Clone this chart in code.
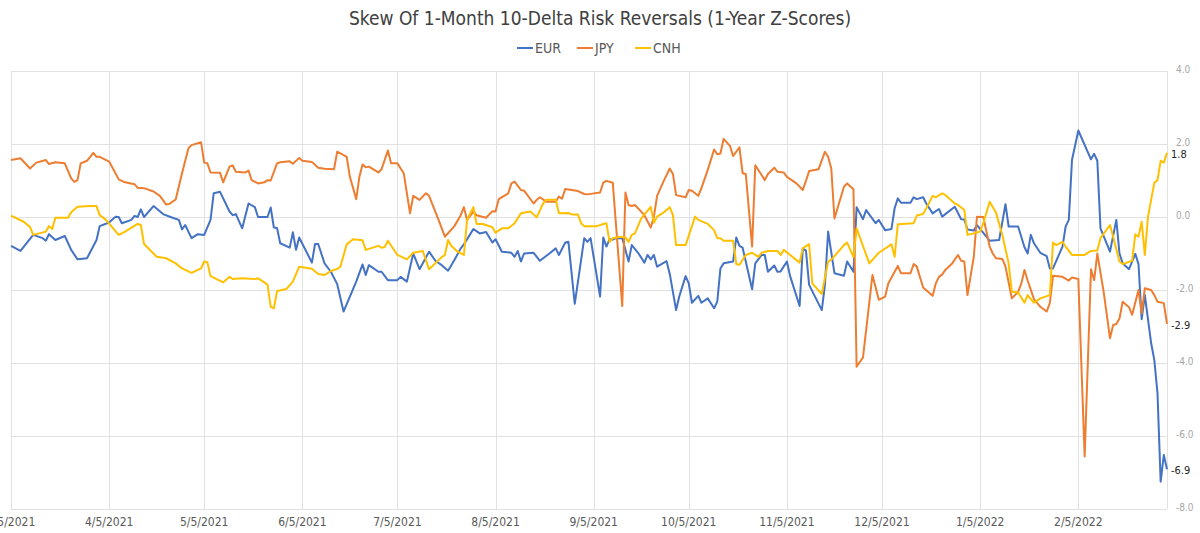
<!DOCTYPE html>
<html>
<head>
<meta charset="utf-8">
<script src="https://cdn.jsdelivr.net/npm/d3@7"></script>
<style>
  body { margin: 0; background: #fff; }
  #chart { width: 1200px; height: 533px; }
  text { font-family: "Liberation Sans Narrow", "DejaVu Sans Condensed", "Roboto", sans-serif; }
</style>
</head>
<body>
<div id="chart"></div>
<script>
// Chart data
const title = "Skew Of 1-Month 10-Delta Risk Reversals (1-Year Z-Scores)";
const seriesNames = ["EUR", "JPY", "CNH"];
const seriesColors = ["#4472C4", "#ED7D31", "#FFC000"];
const yTicks = [4, 2, 0, -2, -4, -6, -8];
const xTickDates = ["2021-03-05", "2021-04-05", "2021-05-05", "2021-06-05", "2021-07-05", "2021-08-05",
  "2021-09-05", "2021-10-05", "2021-11-05", "2021-12-05", "2022-01-05", "2022-02-05"];
const xDomain = ["2021-03-05", "2022-03-05"];

const eurData = [
  ["2021-03-05", -0.79], ["2021-03-08", -0.93], ["2021-03-12", -0.49], ["2021-03-15", -0.58], ["2021-03-16", -0.65],
  ["2021-03-17", -0.47], ["2021-03-19", -0.63], ["2021-03-22", -0.52], ["2021-03-24", -0.90], ["2021-03-26", -1.16],
  ["2021-03-29", -1.13], ["2021-04-01", -0.63], ["2021-04-02", -0.25], ["2021-04-05", -0.15], ["2021-04-07", 0.01],
  ["2021-04-08", 0.0], ["2021-04-09", -0.17], ["2021-04-12", -0.08], ["2021-04-13", 0.03], ["2021-04-14", 0.0],
  ["2021-04-15", 0.21], ["2021-04-16", 0.0], ["2021-04-19", 0.30], ["2021-04-22", 0.08], ["2021-04-25", -0.02],
  ["2021-04-27", -0.08], ["2021-04-28", -0.34], ["2021-04-29", -0.22], ["2021-05-01", -0.58], ["2021-05-03", -0.47],
  ["2021-05-05", -0.49], ["2021-05-07", -0.08], ["2021-05-08", 0.65], ["2021-05-10", 0.69], ["2021-05-13", 0.15],
  ["2021-05-14", 0.05], ["2021-05-15", 0.08], ["2021-05-17", -0.31], ["2021-05-19", 0.37], ["2021-05-21", 0.27],
  ["2021-05-22", 0.0], ["2021-05-25", 0.0], ["2021-05-26", 0.26], ["2021-05-27", -0.29], ["2021-05-28", -0.30],
  ["2021-05-29", -0.72], ["2021-06-01", -0.84], ["2021-06-02", -0.42], ["2021-06-03", -0.90], ["2021-06-04", -0.56],
  ["2021-06-08", -1.25], ["2021-06-09", -0.74], ["2021-06-10", -0.74], ["2021-06-12", -1.27], ["2021-06-14", -1.50],
  ["2021-06-16", -1.84], ["2021-06-18", -2.59], ["2021-06-20", -2.18], ["2021-06-22", -1.77], ["2021-06-24", -1.30],
  ["2021-06-25", -1.59], ["2021-06-26", -1.32], ["2021-06-29", -1.50], ["2021-06-30", -1.50], ["2021-07-02", -1.73],
  ["2021-07-05", -1.73], ["2021-07-06", -1.64], ["2021-07-08", -1.77], ["2021-07-10", -1.0], ["2021-07-12", -1.43],
  ["2021-07-15", -0.95], ["2021-07-17", -1.20], ["2021-07-19", -1.32], ["2021-07-21", -1.47], ["2021-07-23", -1.18],
  ["2021-07-25", -0.86], ["2021-07-26", -0.75], ["2021-07-29", -0.33], ["2021-07-31", -0.45], ["2021-08-02", -0.41],
  ["2021-08-04", -0.70], ["2021-08-05", -0.61], ["2021-08-07", -0.95], ["2021-08-10", -0.98], ["2021-08-11", -1.09],
  ["2021-08-12", -0.93], ["2021-08-13", -1.22], ["2021-08-14", -1.0], ["2021-08-17", -0.98], ["2021-08-19", -1.20],
  ["2021-08-22", -1.0], ["2021-08-24", -0.86], ["2021-08-25", -1.04], ["2021-08-27", -0.70], ["2021-08-28", -0.68],
  ["2021-08-30", -2.38], ["2021-09-02", -0.58], ["2021-09-03", -0.68], ["2021-09-04", -0.58], ["2021-09-07", -2.18],
  ["2021-09-08", -0.56], ["2021-09-09", -0.81], ["2021-09-10", -0.61], ["2021-09-11", -0.62], ["2021-09-12", -0.58],
  ["2021-09-14", -0.58], ["2021-09-16", -1.22], ["2021-09-17", -0.77], ["2021-09-19", -0.98], ["2021-09-21", -1.25],
  ["2021-09-22", -1.04], ["2021-09-23", -1.16], ["2021-09-24", -1.04], ["2021-09-25", -1.36], ["2021-09-28", -1.21],
  ["2021-09-29", -1.56], ["2021-10-01", -2.55], ["2021-10-02", -2.18], ["2021-10-04", -1.62], ["2021-10-05", -1.82],
  ["2021-10-06", -2.35], ["2021-10-08", -2.16], ["2021-10-09", -2.35], ["2021-10-11", -2.23], ["2021-10-13", -2.50],
  ["2021-10-14", -2.32], ["2021-10-15", -1.41], ["2021-10-16", -1.27], ["2021-10-19", -1.22], ["2021-10-20", -0.56],
  ["2021-10-21", -0.79], ["2021-10-22", -0.84], ["2021-10-25", -1.98], ["2021-10-26", -1.27], ["2021-10-28", -1.04],
  ["2021-10-29", -1.04], ["2021-10-30", -1.50], ["2021-11-01", -1.33], ["2021-11-02", -1.50], ["2021-11-03", -1.49],
  ["2021-11-05", -1.22], ["2021-11-06", -1.62], ["2021-11-09", -2.44], ["2021-11-10", -0.86], ["2021-11-11", -0.92],
  ["2021-11-12", -1.86], ["2021-11-16", -2.55], ["2021-11-17", -1.86], ["2021-11-18", -0.40], ["2021-11-20", -1.54],
  ["2021-11-23", -1.61], ["2021-11-24", -1.22], ["2021-11-26", -1.50], ["2021-11-27", 0.27], ["2021-11-29", -0.06],
  ["2021-11-30", 0.19], ["2021-12-03", -0.17], ["2021-12-04", -0.08], ["2021-12-06", -0.36], ["2021-12-08", -0.33],
  ["2021-12-09", 0.24], ["2021-12-10", 0.51], ["2021-12-11", 0.39], ["2021-12-14", 0.39], ["2021-12-15", 0.54],
  ["2021-12-16", 0.49], ["2021-12-18", 0.54], ["2021-12-19", 0.37], ["2021-12-21", 0.10], ["2021-12-23", 0.22],
  ["2021-12-24", 0.01], ["2021-12-28", 0.28], ["2021-12-30", -0.06], ["2021-12-31", -0.07], ["2022-01-01", -0.34],
  ["2022-01-03", -0.37], ["2022-01-04", -0.22], ["2022-01-08", -0.65], ["2022-01-11", -0.63], ["2022-01-13", 0.35],
  ["2022-01-14", -0.26], ["2022-01-17", -0.26], ["2022-01-19", -0.83], ["2022-01-20", -1.0], ["2022-01-21", -0.49],
  ["2022-01-22", -0.72], ["2022-01-24", -0.98], ["2022-01-26", -1.07], ["2022-01-27", -1.41], ["2022-01-28", -1.41],
  ["2022-01-31", -0.81], ["2022-02-01", -0.26], ["2022-02-02", -0.08], ["2022-02-03", 1.56], ["2022-02-05", 2.37],
  ["2022-02-09", 1.58], ["2022-02-10", 1.73], ["2022-02-11", 1.54], ["2022-02-12", -0.31], ["2022-02-15", -0.95],
  ["2022-02-17", -0.08], ["2022-02-18", -1.0], ["2022-02-19", -1.27], ["2022-02-21", -1.43], ["2022-02-23", -1.01],
  ["2022-02-24", -1.29], ["2022-02-25", -2.80], ["2022-02-26", -2.14], ["2022-02-28", -3.46], ["2022-03-01", -3.92],
  ["2022-03-02", -4.83], ["2022-03-03", -7.25], ["2022-03-04", -6.52], ["2022-03-05", -6.91]
];

const jpyData = [
  ["2021-03-05", 1.56], ["2021-03-08", 1.61], ["2021-03-11", 1.33], ["2021-03-13", 1.49], ["2021-03-16", 1.56],
  ["2021-03-17", 1.45], ["2021-03-19", 1.50], ["2021-03-22", 1.47], ["2021-03-24", 1.06], ["2021-03-25", 0.96],
  ["2021-03-26", 1.01], ["2021-03-27", 1.47], ["2021-03-29", 1.54], ["2021-03-31", 1.76], ["2021-04-01", 1.65],
  ["2021-04-02", 1.65], ["2021-04-05", 1.52], ["2021-04-08", 1.03], ["2021-04-10", 0.95], ["2021-04-13", 0.90],
  ["2021-04-14", 0.80], ["2021-04-16", 0.79], ["2021-04-19", 0.70], ["2021-04-21", 0.58], ["2021-04-23", 0.34],
  ["2021-04-24", 0.36], ["2021-04-26", 0.48], ["2021-04-28", 1.20], ["2021-04-30", 1.88], ["2021-05-01", 1.97],
  ["2021-05-04", 2.05], ["2021-05-05", 1.49], ["2021-05-06", 1.47], ["2021-05-07", 1.22], ["2021-05-10", 1.21],
  ["2021-05-11", 0.95], ["2021-05-13", 1.38], ["2021-05-14", 1.41], ["2021-05-15", 1.24], ["2021-05-18", 1.22],
  ["2021-05-19", 1.27], ["2021-05-20", 1.01], ["2021-05-22", 0.92], ["2021-05-24", 0.95], ["2021-05-25", 1.01],
  ["2021-05-26", 1.0], ["2021-05-28", 1.47], ["2021-05-29", 1.50], ["2021-06-01", 1.53], ["2021-06-02", 1.46],
  ["2021-06-04", 1.62], ["2021-06-05", 1.54], ["2021-06-08", 1.51], ["2021-06-10", 1.35], ["2021-06-12", 1.32],
  ["2021-06-15", 1.31], ["2021-06-16", 1.79], ["2021-06-19", 1.65], ["2021-06-20", 1.10], ["2021-06-22", 0.49],
  ["2021-06-23", 1.10], ["2021-06-24", 1.44], ["2021-06-25", 1.36], ["2021-06-26", 1.38], ["2021-06-29", 1.22],
  ["2021-06-30", 1.31], ["2021-07-02", 1.82], ["2021-07-03", 1.47], ["2021-07-05", 1.47], ["2021-07-07", 1.20],
  ["2021-07-09", 0.10], ["2021-07-10", 0.58], ["2021-07-12", 0.47], ["2021-07-14", 0.65], ["2021-07-15", 0.58],
  ["2021-07-18", -0.08], ["2021-07-20", -0.54], ["2021-07-23", -0.25], ["2021-07-25", 0.05], ["2021-07-26", 0.27],
  ["2021-07-27", -0.08], ["2021-07-29", 0.15], ["2021-07-30", 0.05], ["2021-08-02", -0.02], ["2021-08-04", 0.16],
  ["2021-08-05", 0.15], ["2021-08-06", 0.49], ["2021-08-09", 0.65], ["2021-08-10", 0.92], ["2021-08-11", 0.97],
  ["2021-08-13", 0.74], ["2021-08-14", 0.72], ["2021-08-17", 0.37], ["2021-08-18", 0.47], ["2021-08-19", 0.54],
  ["2021-08-21", 0.42], ["2021-08-24", 0.42], ["2021-08-25", 0.56], ["2021-08-26", 0.50], ["2021-08-27", 0.77],
  ["2021-08-31", 0.71], ["2021-09-02", 0.63], ["2021-09-03", 0.62], ["2021-09-07", 0.67], ["2021-09-08", 0.94],
  ["2021-09-09", 0.99], ["2021-09-11", 0.94], ["2021-09-14", -2.44], ["2021-09-15", 0.67], ["2021-09-16", 0.33],
  ["2021-09-17", 0.30], ["2021-09-18", 0.33], ["2021-09-21", 0.05], ["2021-09-23", -0.29], ["2021-09-24", 0.01],
  ["2021-09-25", 0.58], ["2021-09-27", 0.97], ["2021-09-29", 1.33], ["2021-09-30", 1.18], ["2021-10-01", 0.60],
  ["2021-10-04", 0.54], ["2021-10-05", 0.74], ["2021-10-06", 0.72], ["2021-10-08", 0.58], ["2021-10-09", 0.79],
  ["2021-10-11", 1.29], ["2021-10-13", 1.85], ["2021-10-14", 1.72], ["2021-10-15", 1.74], ["2021-10-16", 2.14],
  ["2021-10-18", 1.95], ["2021-10-19", 1.67], ["2021-10-21", 1.91], ["2021-10-22", 1.20], ["2021-10-23", 1.18],
  ["2021-10-25", -0.81], ["2021-10-26", 1.42], ["2021-10-28", 1.15], ["2021-10-29", 1.01], ["2021-10-30", 1.18],
  ["2021-11-01", 1.35], ["2021-11-02", 1.24], ["2021-11-04", 1.22], ["2021-11-05", 1.10], ["2021-11-08", 0.92],
  ["2021-11-10", 0.74], ["2021-11-11", 0.99], ["2021-11-12", 1.26], ["2021-11-15", 1.31], ["2021-11-17", 1.79],
  ["2021-11-18", 1.65], ["2021-11-19", 1.33], ["2021-11-20", -0.04], ["2021-11-23", 0.83], ["2021-11-24", 0.92],
  ["2021-11-26", 0.76], ["2021-11-27", -4.10], ["2021-11-29", -3.85], ["2021-12-02", -1.59], ["2021-12-04", -2.27],
  ["2021-12-06", -2.18], ["2021-12-07", -1.82], ["2021-12-10", -1.34], ["2021-12-11", -1.54], ["2021-12-14", -1.54],
  ["2021-12-15", -1.29], ["2021-12-16", -1.36], ["2021-12-18", -1.93], ["2021-12-21", -2.16], ["2021-12-22", -1.82],
  ["2021-12-23", -1.64], ["2021-12-24", -1.58], ["2021-12-25", -1.45], ["2021-12-27", -1.29], ["2021-12-29", -1.04],
  ["2021-12-30", -1.20], ["2021-12-31", -1.22], ["2022-01-01", -2.14], ["2022-01-03", -1.09], ["2022-01-04", 0.01],
  ["2022-01-06", 0.0], ["2022-01-08", -0.81], ["2022-01-09", -1.0], ["2022-01-10", -1.13], ["2022-01-12", -1.15],
  ["2022-01-13", -1.36], ["2022-01-15", -2.23], ["2022-01-17", -2.05], ["2022-01-18", -1.82], ["2022-01-19", -1.45],
  ["2022-01-20", -1.74], ["2022-01-22", -2.25], ["2022-01-24", -2.46], ["2022-01-26", -2.59], ["2022-01-27", -2.36],
  ["2022-01-28", -1.61], ["2022-01-31", -1.64], ["2022-02-02", -1.74], ["2022-02-03", -1.66], ["2022-02-05", -1.70],
  ["2022-02-07", -6.56], ["2022-02-09", -1.43], ["2022-02-10", -1.73], ["2022-02-11", -1.0], ["2022-02-13", -2.05],
  ["2022-02-15", -3.32], ["2022-02-16", -2.96], ["2022-02-17", -2.93], ["2022-02-18", -2.78], ["2022-02-19", -2.32],
  ["2022-02-21", -2.47], ["2022-02-22", -2.68], ["2022-02-24", -2.0], ["2022-02-25", -2.64], ["2022-02-26", -1.95],
  ["2022-02-28", -2.0], ["2022-03-01", -2.14], ["2022-03-02", -2.32], ["2022-03-04", -2.36], ["2022-03-05", -2.93]
];

const cnhData = [
  ["2021-03-05", 0.04], ["2021-03-09", -0.13], ["2021-03-11", -0.27], ["2021-03-12", -0.49], ["2021-03-16", -0.40],
  ["2021-03-17", -0.25], ["2021-03-18", -0.33], ["2021-03-19", -0.02], ["2021-03-23", -0.02], ["2021-03-24", 0.13],
  ["2021-03-26", 0.28], ["2021-03-30", 0.30], ["2021-04-01", 0.30], ["2021-04-02", 0.05], ["2021-04-04", -0.08],
  ["2021-04-08", -0.49], ["2021-04-10", -0.40], ["2021-04-14", -0.19], ["2021-04-15", -0.22], ["2021-04-16", -0.74],
  ["2021-04-20", -1.09], ["2021-04-23", -1.13], ["2021-04-26", -1.27], ["2021-04-28", -1.41], ["2021-05-01", -1.53],
  ["2021-05-04", -1.41], ["2021-05-05", -1.22], ["2021-05-06", -1.24], ["2021-05-07", -1.62], ["2021-05-11", -1.79],
  ["2021-05-13", -1.64], ["2021-05-14", -1.70], ["2021-05-17", -1.68], ["2021-05-21", -1.70], ["2021-05-22", -1.68],
  ["2021-05-24", -1.79], ["2021-05-25", -1.86], ["2021-05-26", -2.46], ["2021-05-27", -2.50], ["2021-05-28", -2.03],
  ["2021-05-31", -1.97], ["2021-06-02", -1.77], ["2021-06-04", -1.36], ["2021-06-08", -1.42], ["2021-06-10", -1.56],
  ["2021-06-12", -1.59], ["2021-06-14", -1.48], ["2021-06-16", -1.42], ["2021-06-17", -1.36], ["2021-06-19", -0.75],
  ["2021-06-21", -0.61], ["2021-06-24", -0.64], ["2021-06-25", -0.90], ["2021-06-29", -0.79], ["2021-06-30", -0.84],
  ["2021-07-01", -0.82], ["2021-07-02", -0.65], ["2021-07-05", -1.04], ["2021-07-08", -1.16], ["2021-07-10", -0.98],
  ["2021-07-13", -0.93], ["2021-07-15", -1.43], ["2021-07-19", -1.10], ["2021-07-20", -1.04], ["2021-07-21", -0.63],
  ["2021-07-22", -0.79], ["2021-07-24", -0.95], ["2021-07-26", -1.04], ["2021-07-27", -0.08], ["2021-07-29", 0.27],
  ["2021-07-30", -0.19], ["2021-08-01", -0.19], ["2021-08-04", -0.28], ["2021-08-05", -0.43], ["2021-08-07", -0.31],
  ["2021-08-09", -0.31], ["2021-08-11", -0.17], ["2021-08-13", 0.10], ["2021-08-16", 0.15], ["2021-08-18", -0.01],
  ["2021-08-20", 0.37], ["2021-08-21", 0.47], ["2021-08-24", 0.47], ["2021-08-25", 0.10], ["2021-08-28", 0.11],
  ["2021-08-29", 0.07], ["2021-08-31", 0.07], ["2021-09-01", -0.17], ["2021-09-02", -0.25], ["2021-09-06", -0.25],
  ["2021-09-08", -0.19], ["2021-09-09", -0.17], ["2021-09-10", -0.68], ["2021-09-11", -0.58], ["2021-09-13", -0.54],
  ["2021-09-15", -0.56], ["2021-09-16", -0.68], ["2021-09-17", -0.49], ["2021-09-18", -0.45], ["2021-09-20", -0.04],
  ["2021-09-23", 0.28], ["2021-09-24", -0.16], ["2021-09-25", 0.01], ["2021-09-27", 0.12], ["2021-09-29", 0.27],
  ["2021-09-30", 0.05], ["2021-10-01", -0.77], ["2021-10-04", -0.77], ["2021-10-07", 0.01], ["2021-10-08", -0.08],
  ["2021-10-11", -0.19], ["2021-10-13", -0.36], ["2021-10-14", -0.58], ["2021-10-15", -0.58], ["2021-10-16", -0.65],
  ["2021-10-19", -0.65], ["2021-10-20", -1.29], ["2021-10-21", -1.31], ["2021-10-23", -1.04], ["2021-10-25", -0.98],
  ["2021-10-27", -1.09], ["2021-10-28", -0.98], ["2021-10-30", -0.93], ["2021-11-02", -0.93], ["2021-11-03", -1.04],
  ["2021-11-04", -0.90], ["2021-11-09", -1.25], ["2021-11-10", -0.86], ["2021-11-12", -0.74], ["2021-11-13", -1.82],
  ["2021-11-16", -2.11], ["2021-11-18", -1.22], ["2021-11-19", -1.17], ["2021-11-23", -0.77], ["2021-11-24", -0.70],
  ["2021-11-26", -1.09], ["2021-11-27", -0.31], ["2021-12-01", -1.27], ["2021-12-04", -0.98], ["2021-12-08", -0.75],
  ["2021-12-09", -1.09], ["2021-12-10", -0.20], ["2021-12-15", -0.17], ["2021-12-16", 0.04], ["2021-12-18", 0.08],
  ["2021-12-19", 0.24], ["2021-12-21", 0.58], ["2021-12-22", 0.54], ["2021-12-24", 0.65], ["2021-12-25", 0.60],
  ["2021-12-28", 0.37], ["2021-12-29", 0.33], ["2021-12-31", 0.19], ["2022-01-01", -0.49], ["2022-01-05", -0.40],
  ["2022-01-06", -0.17], ["2022-01-08", 0.42], ["2022-01-10", 0.12], ["2022-01-12", -0.49], ["2022-01-14", -1.27],
  ["2022-01-15", -2.05], ["2022-01-17", -2.07], ["2022-01-19", -2.35], ["2022-01-20", -2.14], ["2022-01-22", -2.35],
  ["2022-01-24", -2.23], ["2022-01-27", -2.14], ["2022-01-28", -0.70], ["2022-01-29", -0.77], ["2022-01-31", -0.68],
  ["2022-02-01", -0.81], ["2022-02-03", -1.04], ["2022-02-07", -1.04], ["2022-02-09", -0.93], ["2022-02-11", -0.92],
  ["2022-02-12", -0.58], ["2022-02-15", -0.22], ["2022-02-16", -0.54], ["2022-02-18", -1.22], ["2022-02-19", -1.29],
  ["2022-02-22", -1.20], ["2022-02-23", -0.47], ["2022-02-24", -0.54], ["2022-02-25", -0.13], ["2022-02-26", -1.04],
  ["2022-02-27", 0.01], ["2022-03-01", 0.94], ["2022-03-02", 1.01], ["2022-03-03", 1.54], ["2022-03-04", 1.49],
  ["2022-03-05", 1.76]
];

const allData = [eurData, jpyData, cnhData];

const width = 1200;
const height = 533;
const margin = { top: 71, right: 33, bottom: 24, left: 11 };
const parseDate = d3.utcParse("%Y-%m-%d");

const svg = d3
  .select("#chart")
  .append("svg")
  .attr("width", width)
  .attr("height", height);

const x = d3
  .scaleUtc()
  .domain(xDomain.map(parseDate))
  .range([margin.left, width - margin.right]);

const y = d3
  .scaleLinear()
  .domain([-8, 4])
  .range([height - margin.bottom, margin.top]);

// Grid lines
svg
  .append("g")
  .selectAll("line")
  .data(yTicks)
  .enter()
  .append("line")
  .attr("x1", margin.left)
  .attr("x2", width - margin.right)
  .attr("y1", (d) => Math.round(y(d)) + 0.5)
  .attr("y2", (d) => Math.round(y(d)) + 0.5)
  .attr("stroke", "#e1e1e1")
  .attr("stroke-width", 1);

svg
  .append("g")
  .selectAll("line")
  .data(xTickDates.map(parseDate).concat([parseDate(xDomain[1])]))
  .enter()
  .append("line")
  .attr("x1", (d) => Math.round(x(d)) + 0.5)
  .attr("x2", (d) => Math.round(x(d)) + 0.5)
  .attr("y1", margin.top)
  .attr("y2", height - margin.bottom)
  .attr("stroke", "#e1e1e1")
  .attr("stroke-width", 1);

// Right y axis labels
svg
  .append("g")
  .selectAll("text")
  .data(yTicks)
  .enter()
  .append("text")
  .attr("x", width - margin.right + 9)
  .attr("y", (d) => y(d) + 2)
  .attr("font-size", 10)
  .attr("fill", "#a6a6a6")
  .text((d) => d3.format(".1f")(d).replace("−", "-"));

// Bottom x axis labels
const fmtDate = d3.utcFormat("%-m/%-d/%Y");
svg
  .append("g")
  .selectAll("text")
  .data(xTickDates.map(parseDate))
  .enter()
  .append("text")
  .attr("x", (d) => x(d))
  .attr("y", height - 7)
  .attr("text-anchor", "middle")
  .attr("font-size", 12)
  .attr("fill", "#595959")
  .text((d) => fmtDate(d));

// Series lines
const line = d3
  .line()
  .x((d) => x(parseDate(d[0])))
  .y((d) => y(d[1]));

svg
  .append("g")
  .selectAll("path")
  .data(allData)
  .enter()
  .append("path")
  .attr("d", (d) => line(d))
  .attr("fill", "none")
  .attr("stroke", (d, i) => seriesColors[i])
  .attr("stroke-width", 2)
  .attr("stroke-linejoin", "round");

// Last value labels
svg
  .append("g")
  .selectAll("text")
  .data(allData)
  .enter()
  .append("text")
  .attr("x", (d) => x(parseDate(d[d.length - 1][0])) + 4)
  .attr("y", (d) => y(d[d.length - 1][1]) + 5)
  .attr("font-size", 11)
  .attr("fill", "#262626")
  .text((d) => d3.format(".1f")(d[d.length - 1][1]).replace("−", "-"));

// Title
svg
  .append("text")
  .attr("x", width / 2)
  .attr("y", 25)
  .attr("text-anchor", "middle")
  .attr("font-size", 19)
  .attr("fill", "#404040")
  .text(title);

// Legend
const legendX = [517, 577, 635];
const legend = svg
  .append("g")
  .selectAll("g")
  .data(seriesNames)
  .enter()
  .append("g")
  .attr("transform", (d, i) => `translate(${legendX[i]},48)`);

legend
  .append("line")
  .attr("x1", 0)
  .attr("x2", 16)
  .attr("stroke", (d, i) => seriesColors[i])
  .attr("stroke-width", 2);

legend
  .append("text")
  .attr("x", 18)
  .attr("y", 5)
  .attr("font-size", 14)
  .attr("fill", "#595959")
  .text((d) => d);
</script>
</body>
</html>
